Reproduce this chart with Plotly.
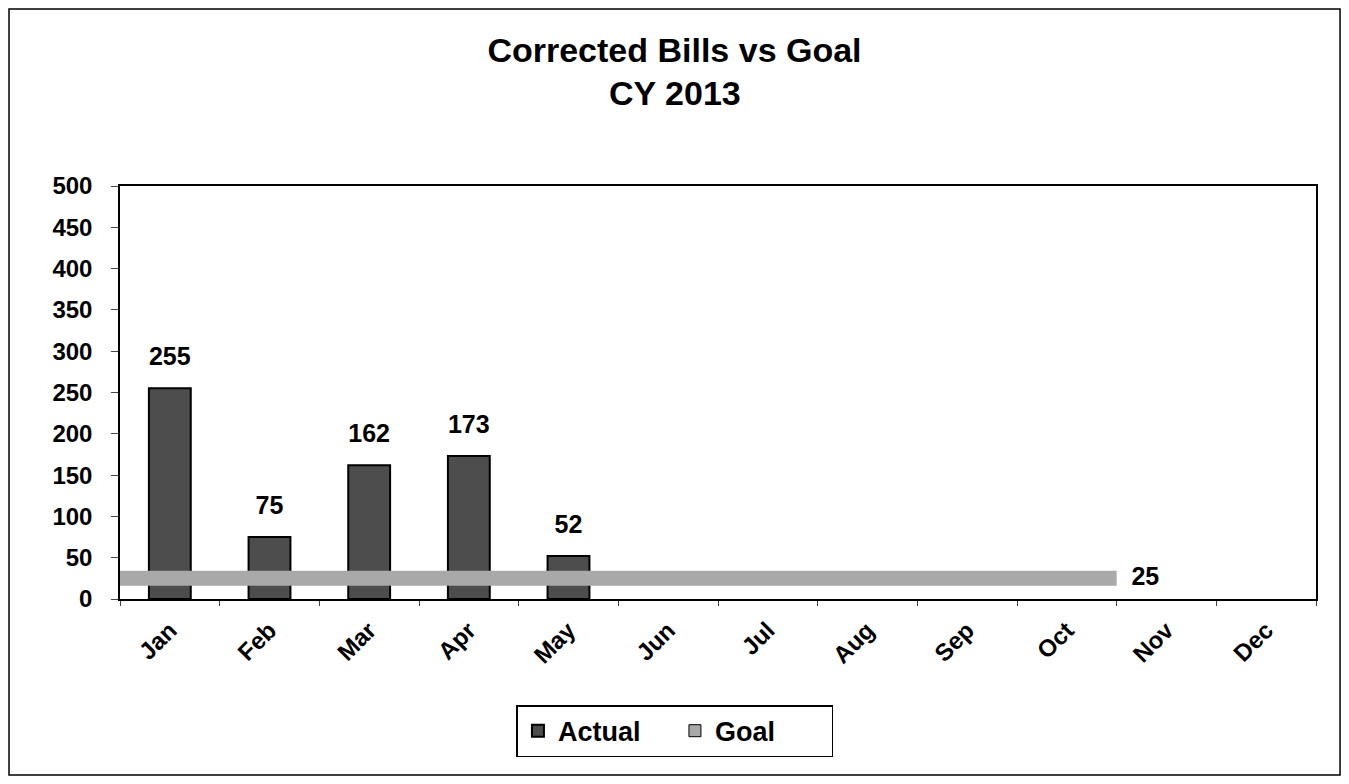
import plotly.graph_objects as go

# 月別データ
months = ['Jan', 'Feb', 'Mar', 'Apr', 'May', 'Jun', 'Jul', 'Aug', 'Sep', 'Oct', 'Nov', 'Dec']
actual = [255, 75, 162, 173, 52, None, None, None, None, None, None, None]
# 目標線（Jan左端〜Oct右端の境界ごとの値）
goal = [25, 25, 25, 25, 25, 25, 25, 25, 25, 25, 25]
goal_labels = ['', '', '', '', '', '', '', '', '', '', '25']

FONT = 'Arial, Liberation Sans, sans-serif'
BOLD = dict(family=FONT, color='black', weight='bold')

fig = go.Figure()

fig.add_trace(go.Bar(
    x=months, y=actual, name='Actual',
    marker=dict(color='#4d4d4d', line=dict(color='black', width=2)),
))
# 棒の上のラベル（少し離して表示）
fig.add_trace(go.Scatter(
    x=months, y=actual, mode='markers+text',
    marker=dict(size=26, opacity=0),
    text=[str(v) if v is not None else '' for v in actual],
    textposition='top center', cliponaxis=False,
    textfont=dict(size=25, **BOLD),
    showlegend=False, hoverinfo='skip',
))

# 目標線は別のx軸（境界位置）に描く
fig.add_trace(go.Scatter(
    x=list(range(len(goal))), y=goal, xaxis='x2', mode='lines+markers+text',
    line=dict(color='#a9a9a9', width=15),
    marker=dict(size=22, opacity=0),
    text=goal_labels, textposition='middle right',
    textfont=dict(size=25, **BOLD),
    showlegend=False, cliponaxis=False,
))
# 凡例用（四角いマーカー）
fig.add_trace(go.Bar(
    x=[None], y=[None], name='Goal',
    marker=dict(color='#a9a9a9', line=dict(color='black', width=1)),
))

# ページのbody余白(8px)を見込んだサイズ
fig.update_layout(
    width=1333, height=768,
    paper_bgcolor='white', plot_bgcolor='white',
    margin=dict(l=112, r=25, t=178, b=177),
    font=dict(family=FONT, size=20, color='black'),
    title=dict(
        text='Corrected Bills vs Goal',
        x=0.5, xanchor='center', xref='container',
        y=0.945, yanchor='middle', yref='container',
        font=dict(size=34, **BOLD),
    ),
    bargap=0.58,
    showlegend=True,
    legend=dict(
        orientation='h', x=0.464, xanchor='center', y=-0.257, yanchor='top',
        bordercolor='black', borderwidth=1.5,
        font=dict(size=27, **BOLD),
        traceorder='normal', itemwidth=30, entrywidth=112,
    ),
    xaxis=dict(
        type='category', range=[-0.5, 11.5],
        tickangle=-45, tickson='boundaries', ticks='outside', ticklen=5,
        ticklabelstandoff=6,
        tickfont=dict(size=24, **BOLD),
        showline=True, linecolor='black', linewidth=1.5, mirror=True,
        showgrid=False,
    ),
    xaxis2=dict(
        overlaying='x', range=[0, 12], visible=False,
    ),
    yaxis=dict(
        range=[0, 500], dtick=50, ticks='outside', ticklen=7,
        ticklabelstandoff=14,
        tickfont=dict(size=24, **BOLD),
        showline=True, linecolor='black', linewidth=1.5, mirror=True,
        showgrid=False, zeroline=False,
    ),
)

# タイトル2行目
fig.add_annotation(
    text='CY 2013', xref='paper', yref='paper', x=0.464, y=1.225,
    xanchor='center', yanchor='middle', showarrow=False,
    font=dict(size=34, **BOLD),
)

# 外枠
fig.add_shape(type='rect', xref='paper', yref='paper',
              x0=-0.0928, x1=1.0201, y0=-0.4262, y1=1.4286,
              line=dict(color='black', width=1.5))

fig.write_html('out.html')
